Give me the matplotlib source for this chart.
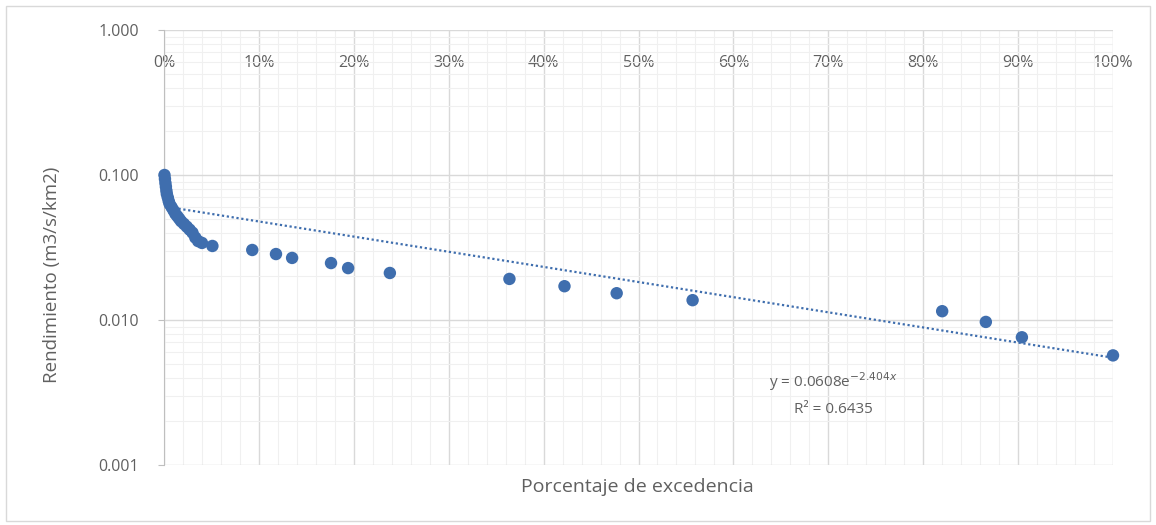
import numpy as np
import matplotlib.pyplot as plt
from matplotlib.ticker import FixedLocator, FuncFormatter, LogLocator, NullFormatter
from matplotlib.patches import Rectangle

plt.rcParams['font.family'] = ['Open Sans', 'DejaVu Sans']

# Exceedance probability (fraction) and specific yield (m3/s/km2)
excedencia = [0.0005, 0.001, 0.0015, 0.002, 0.0025, 0.003, 0.004, 0.005, 0.006,
              0.008, 0.010, 0.012, 0.014, 0.016, 0.018, 0.021, 0.024, 0.027,
              0.030, 0.033, 0.036, 0.040,
              0.051, 0.093, 0.118, 0.135, 0.176, 0.194, 0.238, 0.364, 0.422,
              0.477, 0.557, 0.820, 0.866, 0.904, 1.000]
rendimiento = [0.100, 0.094, 0.088, 0.083, 0.078, 0.074, 0.070, 0.066, 0.063,
               0.060, 0.057, 0.054, 0.052, 0.050, 0.048, 0.046, 0.044, 0.042,
               0.040, 0.037, 0.035, 0.034,
               0.0324, 0.0304, 0.0285, 0.0268, 0.0247, 0.0228, 0.0211, 0.0192,
               0.0171, 0.0153, 0.0137, 0.0115, 0.0097, 0.0076, 0.0057]

# Exponential trend line y = a * exp(b x)
trend_a = 0.0608
trend_b = -2.404
r2 = 0.6435

x_ticks = [0.0, 0.1, 0.2, 0.3, 0.4, 0.5, 0.6, 0.7, 0.8, 0.9, 1.0]
y_ticks = [0.001, 0.01, 0.1, 1.0]

blue = '#3F6EAE'
grey_text = '#606060'

fig = plt.figure(figsize=(11.56, 5.25), dpi=100)
ax = fig.add_axes([164 / 1156, 1 - 465 / 525, (1113 - 164) / 1156, (465 - 30) / 525])

ax.set_yscale('log')
ax.set_xlim(0, 1)
ax.set_ylim(0.001, 1.0)

# Grid
ax.xaxis.set_major_locator(FixedLocator(x_ticks))
ax.xaxis.set_minor_locator(FixedLocator(np.arange(0, 1.0001, 0.02)))
ax.yaxis.set_major_locator(FixedLocator(y_ticks))
ax.yaxis.set_minor_locator(LogLocator(base=10, subs=np.arange(2, 10)))
ax.yaxis.set_minor_formatter(NullFormatter())
ax.grid(which='major', color='#d9d9d9', linewidth=1.0)
ax.grid(which='minor', color='#f0f0f0', linewidth=0.8)
ax.set_axisbelow(True)

for side in ['top', 'right', 'bottom']:
    ax.spines[side].set_visible(False)
ax.spines['left'].set_color('#bfbfbf')

ax.xaxis.set_major_formatter(FuncFormatter(lambda v, p: f'{v * 100:.0f}%'))
ax.yaxis.set_major_formatter(FuncFormatter(lambda v, p: f'{v:.3f}'))
ax.tick_params(axis='x', which='both', top=False, bottom=False, labeltop=True,
               labelbottom=False, pad=-33, labelsize=11.5, labelcolor=grey_text)
ax.tick_params(axis='y', which='major', length=4, color='#bfbfbf', pad=14,
               labelsize=11.5, labelcolor=grey_text)
ax.tick_params(axis='y', which='minor', length=0)

# Trend line
xt = np.linspace(0, 1, 200)
ax.plot(xt, trend_a * np.exp(trend_b * xt), color=blue, linestyle=(0, (1, 1.2)),
        linewidth=1.6, zorder=2)

# Data points
ax.scatter(excedencia, rendimiento, s=80, color=blue, edgecolors='none', zorder=3,
           clip_on=False)

ax.text(0.705, 0.192, f'y = {trend_a}e$^{{{trend_b}x}}$', transform=ax.transAxes,
        fontsize=11, color=grey_text, ha='center', va='center')
ax.text(0.705, 0.128, f'R² = {r2}', transform=ax.transAxes,
        fontsize=11, color=grey_text, ha='center', va='center')

fig.text(637 / 1156, 1 - 487 / 525, 'Porcentaje de excedencia', fontsize=14,
         color=grey_text, ha='center', va='center')
fig.text(52 / 1156, 1 - 275 / 525, 'Rendimiento (m3/s/km2)', fontsize=13.5,
         color=grey_text, ha='center', va='center', rotation=90)

# Chart border
fig.patches.append(Rectangle((6 / 1156, 4 / 525), 1 - 12 / 1156, 1 - 10 / 525,
                             transform=fig.transFigure, fill=False,
                             edgecolor='#d9d9d9', linewidth=1.0))

fig.savefig('out.png', dpi=100)
